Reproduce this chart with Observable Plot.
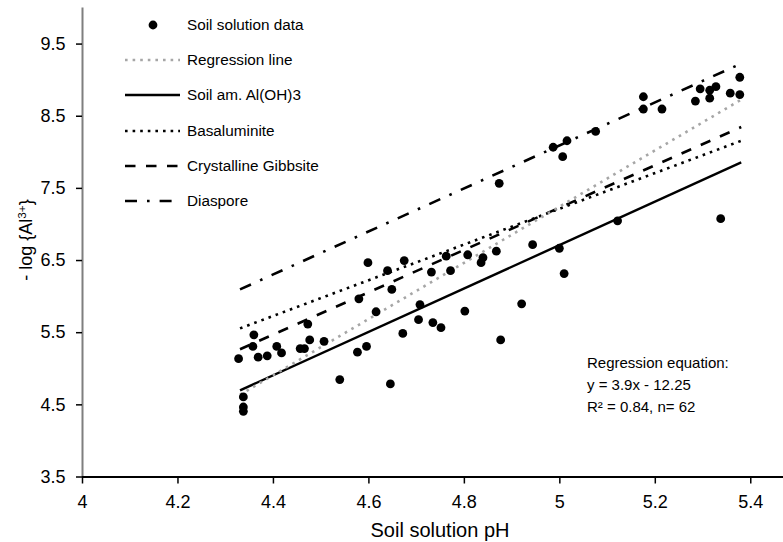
<!DOCTYPE html>
<html><head><meta charset="utf-8">
<script src="https://cdn.jsdelivr.net/npm/d3@7"></script>
<script src="https://cdn.jsdelivr.net/npm/@observablehq/plot@0.6"></script>
<style>
html,body{margin:0;padding:0;overflow:hidden;background:#fff;}
#wrap{position:relative;width:783px;height:542px;overflow:hidden;background:#fff;font-family:"Liberation Sans",Arial,Helvetica,sans-serif;color:#000;}
#wrap svg.plot{position:absolute;left:0;top:0;}
.legrow{position:absolute;left:125px;height:20px;display:flex;align-items:center;font-size:15.3px;white-space:nowrap;}
.legrow svg{width:55px;height:12px;margin-right:7px;flex:none;}
.anno{position:absolute;left:587px;font-size:15px;white-space:nowrap;line-height:20px;}
#xlab{position:absolute;left:0;width:880px;text-align:center;font-size:20px;line-height:20px;top:520px;}
#ylab{position:absolute;left:26px;top:240px;transform:translate(-50%,-50%) rotate(-90deg);font-size:18px;white-space:nowrap;line-height:20px;}
#ylab sup{font-size:0.65em;vertical-align:0.55em;line-height:0;}
</style></head><body><div id="wrap"></div>
<script>
// ---- data ----
const pH = [4.327,4.337,4.337,4.337,4.359,4.357,4.368,4.387,4.407,4.417,4.456,4.465,4.472,4.476,4.506,4.539,4.576,4.595,4.598,4.579,4.615,4.639,4.648,4.645,4.671,4.674,4.704,4.707,4.734,4.751,4.731,4.762,4.771,4.801,4.807,4.835,4.839,4.867,4.876,4.873,4.920,4.943,4.999,5.009,4.986,5.015,5.006,5.075,5.121,5.175,5.175,5.214,5.284,5.294,5.314,5.327,5.314,5.357,5.377,5.377,5.337];
const pAl = [5.14,4.61,4.47,4.41,5.47,5.31,5.16,5.18,5.31,5.22,5.28,5.28,5.62,5.40,5.38,4.85,5.23,5.31,6.47,5.97,5.79,6.36,6.10,4.79,5.49,6.50,5.68,5.89,5.64,5.57,6.34,6.56,6.36,5.80,6.58,6.47,6.54,6.63,5.40,7.57,5.90,6.72,6.67,6.32,8.07,8.16,7.94,8.29,7.05,8.77,8.60,8.60,8.71,8.88,8.86,8.91,8.75,8.82,9.04,8.80,7.08];
const lineX = [4.33, 5.38];
const regressionY = [4.64, 8.73];
const amorphousY = [4.70, 7.86];
const basaluminiteY = [5.56, 8.16];
const gibbsiteY = [5.27, 8.35];
const diasporeY = [6.10, 9.23];
const xTicks = [4, 4.2, 4.4, 4.6, 4.8, 5, 5.2, 5.4];
const yTicks = [3.5, 4.5, 5.5, 6.5, 7.5, 8.5, 9.5];
const seriesNames = ["Soil solution data","Regression line","Soil am. Al(OH)3","Basaluminite","Crystalline Gibbsite","Diaspore"];
const annotation = ["Regression equation:","y = 3.9x - 12.25","R\u00B2 = 0.84, n= 62"];

// ---- styles ----
const lineStyles = {
  "Regression line": {stroke:"#a6a6a6", strokeWidth:2.6, strokeDasharray:"2.6,5"},
  "Soil am. Al(OH)3": {stroke:"#000", strokeWidth:2.4, strokeDasharray:null},
  "Basaluminite": {stroke:"#000", strokeWidth:2.6, strokeDasharray:"2.6,5"},
  "Crystalline Gibbsite": {stroke:"#000", strokeWidth:2.6, strokeDasharray:"10.5,10.5"},
  "Diaspore": {stroke:"#000", strokeWidth:2.6, strokeDasharray:"12,10,2.6,10"}
};
const lineData = {
  "Regression line": regressionY,
  "Soil am. Al(OH)3": amorphousY,
  "Basaluminite": basaluminiteY,
  "Crystalline Gibbsite": gibbsiteY,
  "Diaspore": diasporeY
};
const drawOrder = ["Diaspore","Crystalline Gibbsite","Basaluminite","Soil am. Al(OH)3","Regression line"];

const points = pH.map((x, i) => ({x, y: pAl[i]}));
const lineMarks = drawOrder.map(name => {
  const rows = lineX.map((x, i) => ({x, y: lineData[name][i]}));
  const s = lineStyles[name];
  return Plot.line(rows, {x:"x", y:"y", stroke:s.stroke, strokeWidth:s.strokeWidth, strokeDasharray:s.strokeDasharray || undefined, strokeLinecap:"butt"});
});

const chart = Plot.plot({
  width: 798, height: 542,
  marginLeft: 82, marginRight: 0, marginTop: 7.5, marginBottom: 65.5,
  style: {fontFamily:'"Liberation Sans", Arial, Helvetica, sans-serif', maxWidth:"none", background:"white", overflow:"visible"},
  x: {domain:[4, 5.5]},
  y: {domain:[3.5, 10]},
  marks: [
    ...lineMarks,
    Plot.dot(points, {x:"x", y:"y", r:4.4, fill:"#000", stroke:"none"}),
    Plot.ruleX([4], {stroke:"#7f7f7f", strokeWidth:2}),
    Plot.ruleY([3.5], {stroke:"#000", strokeWidth:2}),
    Plot.axisX({ticks:xTicks, tickSize:7, tickPadding:11, fontSize:18, stroke:"#000", strokeWidth:1.5, fill:"#000", tickFormat:d => String(d), label:null}),
    Plot.axisY({ticks:yTicks, tickSize:6, tickPadding:11, fontSize:18, stroke:"#000", strokeWidth:1.5, fill:"#000", tickFormat:d => d.toFixed(1), label:null})
  ]
});
const wrap = document.getElementById("wrap");
chart.classList.add("plot");
wrap.appendChild(chart);

// ---- legend ----
seriesNames.forEach((name, i) => {
  const cy = 25 + 35.2 * i;
  const row = document.createElement("div");
  row.className = "legrow";
  row.style.top = (cy - 10) + "px";
  const svg = d3.create("svg").attr("viewBox","0 0 55 12");
  if (i === 0) {
    svg.append("circle").attr("cx",28).attr("cy",6).attr("r",4.4).attr("fill","#000");
  } else {
    const s = lineStyles[name];
    svg.append("line").attr("x1",0).attr("x2",55).attr("y1",6).attr("y2",6)
      .attr("stroke", s.stroke).attr("stroke-width", s.strokeWidth)
      .attr("stroke-dasharray", s.strokeDasharray);
  }
  row.appendChild(svg.node());
  const span = document.createElement("span");
  span.textContent = name;
  row.appendChild(span);
  wrap.appendChild(row);
});

// ---- annotation ----
annotation.forEach((t, i) => {
  const d = document.createElement("div");
  d.className = "anno";
  d.style.top = (353 + 21.8 * i) + "px";
  d.textContent = t;
  wrap.appendChild(d);
});

// ---- axis titles ----
const xl = document.createElement("div");
xl.id = "xlab"; xl.textContent = "Soil solution pH";
wrap.appendChild(xl);
const yl = document.createElement("div");
yl.id = "ylab";
yl.innerHTML = "- log {Al<sup>3+</sup>}";
wrap.appendChild(yl);
</script></body></html>
